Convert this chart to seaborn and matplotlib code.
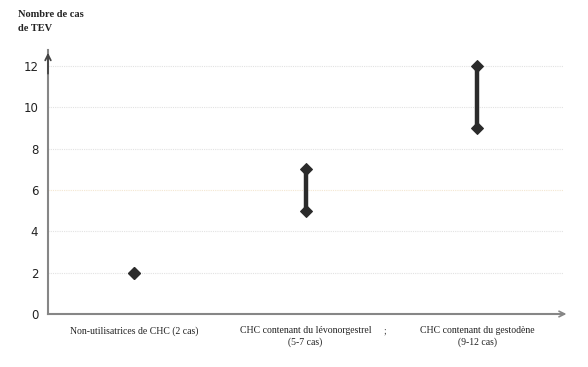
import matplotlib
matplotlib.use("Agg")
import matplotlib.pyplot as plt
import seaborn as sns
import pandas as pd
import numpy as np

categories = ["Non-utilisatrices de CHC (2 cas)",
              "CHC contenant du lévonorgestrel\n(5-7 cas)",
              "CHC contenant du gestodène\n(9-12 cas)"]
low_values = [2, 5, 9]
high_values = [2, 7, 12]
y_ticks = [0, 2, 4, 6, 8, 10, 12]

rows = []
for i, (lo, hi) in enumerate(zip(low_values, high_values)):
    rows.append({"pos": i, "cat": categories[i], "val": lo})
    rows.append({"pos": i, "cat": categories[i], "val": hi})
df = pd.DataFrame(rows)

sns.set_style("white")
fig = plt.figure(figsize=(5.88, 3.67), dpi=100)
ax = fig.add_axes([48/588, 1-314/367, (563-48)/588, (314-50)/367])

dark = "#2b2b2b"
sns.lineplot(data=df, x="pos", y="val", units="pos", estimator=None,
             color=dark, lw=3.2, marker="D", markersize=6.5,
             markeredgecolor=dark, ax=ax, legend=False, sort=False)

ax.set_xlim(-0.5, 2.5)
ax.set_ylim(0, 12.77)
ax.set_yticks(y_ticks)
ax.set_yticklabels([str(t) for t in y_ticks], fontsize=8.5, color="#222222",
                   family="DejaVu Sans")
ax.set_xticks([-0.5, 0.5, 1.5, 2.5])
ax.set_xticklabels([])
ax.set_xlabel("")
ax.set_ylabel("")

for t in y_ticks[1:]:
    col = "#f3e6d0" if t == 6 else "#e2e2e2"
    ax.axhline(t, color=col, lw=0.8, ls=(0, (1, 1)), zorder=0)

for s in ["top", "right"]:
    ax.spines[s].set_visible(False)
for s in ["left", "bottom"]:
    ax.spines[s].set_color("#868686")
    ax.spines[s].set_linewidth(1.5)

ax.tick_params(axis="y", direction="out", length=3, width=1, color="#868686", pad=4)
ax.tick_params(axis="x", direction="out", length=4, width=1, color="#868686")

# axis arrows
ax.annotate("", xy=(0, 1.0), xycoords="axes fraction", xytext=(0, 0.9),
            arrowprops=dict(arrowstyle="->", color="#444444", lw=1.3))
ax.annotate("", xy=(1.012, 0), xycoords="axes fraction", xytext=(0.95, 0),
            arrowprops=dict(arrowstyle="->", color="#868686", lw=1.2))

for i, c in enumerate(categories):
    ax.text(i, -0.6, c, ha="center", va="top", fontsize=7,
            family="Liberation Serif", color="#222222", linespacing=1.3)

ax.text(1.46, -0.62, ";", ha="center", va="top", fontsize=7,
        family="Liberation Serif", color="#444444")

fig.text(18/588, 1-10/367, "Nombre de cas\nde TEV", ha="left", va="top",
         fontsize=7.5, fontweight="bold", family="Liberation Serif",
         color="#222222", linespacing=1.65)

fig.savefig("out.png", dpi=100)
